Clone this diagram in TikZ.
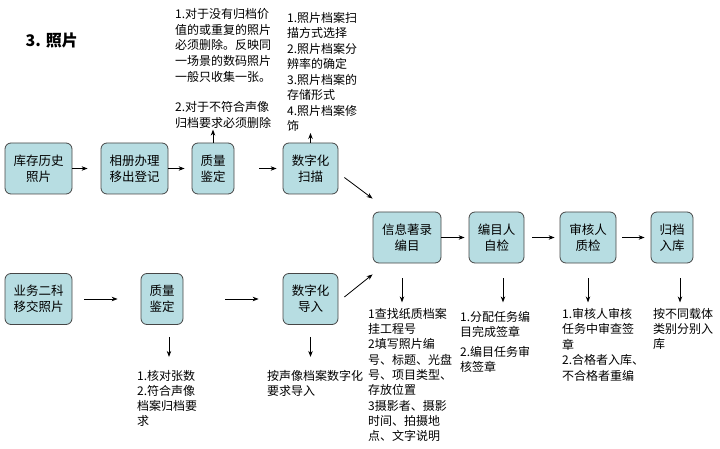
\documentclass[tikz,border=0pt]{standalone}
\usepackage{fontspec}
\setmainfont{Noto Sans CJK SC}
\usetikzlibrary{arrows.meta,positioning,calc}
\definecolor{boxfill}{RGB}{183,221,226}
\definecolor{boxline}{RGB}{70,70,70}
\newcommand{\boxfont}{\fontsize{12.5}{16}\selectfont}
\newcommand{\notefont}{\fontsize{12}{15.5}\selectfont}
\tikzset{
  stage/.style={draw=boxline, fill=boxfill, rounded corners=6pt, line width=0.8pt,
    minimum height=51, align=center, font=\boxfont, inner sep=1pt},
  note/.style={anchor=north west, align=left, inner sep=0pt, font=\notefont},
  arr/.style={-{Stealth[length=6pt,width=4.5pt]}, line width=0.8pt}
}
\begin{document}
\begin{tikzpicture}[x=1pt, y=-1pt]
  \useasboundingbox (0,0) rectangle (720,449);
  % title
  \node[anchor=west, font=\fontsize{16}{18}\selectfont\bfseries] (title) at (22,40) {3. 照片};
  % first row
  \node[stage, minimum width=67] (kucun) at (38.5,168.5) {库存历史\\照片};
  \node[stage, minimum width=67] (xiangce) at (134.5,168.5) {相册办理\\移出登记};
  \node[stage, minimum width=42] (zhiliang) at (213,168.5) {质量\\鉴定};
  \node[stage, minimum width=55] (saomiao) at (310.5,168.5) {数字化\\扫描};
  % middle row
  \node[stage, minimum width=68] (zhulu) at (407,237.5) {信息著录\\编目};
  \node[stage, minimum width=55] (zijian) at (496.5,237.5) {编目人\\自检};
  \node[stage, minimum width=56] (zhijian) at (588,237.5) {审核人\\质检};
  \node[stage, minimum width=42] (guidang) at (672,237.5) {归档\\入库};
  % second row
  \node[stage, minimum width=67] (yewu) at (38.5,299) {业务二科\\移交照片};
  \node[stage, minimum width=42] (zhiliangb) at (162,299) {质量\\鉴定};
  \node[stage, minimum width=55] (daoru) at (310.5,299) {数字化\\导入};
  % notes
  \node[note, font=\fontsize{12}{15.8}\selectfont] (delnote) at (175,8) {1.对于没有归档价\\值的或重复的照片\\必须删除。反映同\\一场景的数码照片\\一般只收集一张。\\[14pt]2.对于不符合声像\\归档要求必须删除};
  \node[note] (scannote) at (287,12) {1.照片档案扫\\描方式选择\\2.照片档案分\\辨率的确定\\3.照片档案的\\存储形式\\4.照片档案修\\饰};
  \node[note, font=\fontsize{12}{15}\selectfont] (checknote) at (137,370) {1.核对张数\\2.符合声像\\档案归档要\\求};
  \node[note] (importnote) at (267,370) {按声像档案数字化\\要求导入};
  \node[note, font=\fontsize{12}{15.3}\selectfont] (catnote) at (368,308) {1查找纸质档案\\挂工程号\\2填写照片编\\号、标题、光盘\\号、项目类型、\\存放位置\\3摄影者、摄影\\时间、拍摄地\\点、文字说明};
  \node[note, font=\fontsize{12}{15}\selectfont] (selfnote) at (460,311) {1.分配任务编\\目完成签章\\[5pt]2.编目任务审\\核签章};
  \node[note, font=\fontsize{12}{15.5}\selectfont] (auditnote) at (562,308) {1.审核人审核\\任务中审查签\\章\\2.合格者入库、\\不合格者重编};
  \node[note, font=\fontsize{12}{15}\selectfont] (storenote) at (653,308) {按不同载体\\类别分别入\\库};
  % flow arrows
  \draw[arr, shorten >=13pt] (kucun) -- (xiangce);
  \draw[arr, shorten >=7pt] (xiangce) -- (zhiliang);
  \draw[arr, shorten <=25pt, shorten >=6pt] (zhiliang) -- (saomiao);
  \draw[arr, shorten <=12pt, shorten >=23pt] (yewu) -- (zhiliangb);
  \draw[arr, shorten <=42pt, shorten >=24pt] (zhiliangb) -- (daoru);
  \draw[arr, shorten >=4pt] (zhulu) -- (zijian);
  \draw[arr, shorten <=8pt, shorten >=5pt] (zijian) -- (zhijian);
  \draw[arr, shorten <=6pt, shorten >=6pt] (zhijian) -- (guidang);
  \draw[arr] ($(saomiao.east)+(6,9)$) -- ($(zhulu.north west)+(0,-13)$);
  \draw[arr] ($(daoru.east)+(6,-2)$) -- ($(zhulu.south west)+(0,11)$);
  % arrows to notes
  \draw[arr] (zhiliang.north) -- ++(0,-13);
  \draw[arr, shorten >=1pt] (saomiao.north) -- (saomiao.north |- scannote.south);
  \draw[arr, shorten <=12pt] ([xshift=7pt]zhiliangb.south) -- ++(0,32);
  \draw[arr, shorten <=12pt] (daoru.south) -- ++(0,32);
  \foreach \b/\dx in {zhulu/-5, zijian/6.5, zhijian/0, guidang/8}
    \draw[arr, shorten <=15pt] ([xshift=\dx pt]\b.south) -- ++(0,39);
\end{tikzpicture}
\end{document}
